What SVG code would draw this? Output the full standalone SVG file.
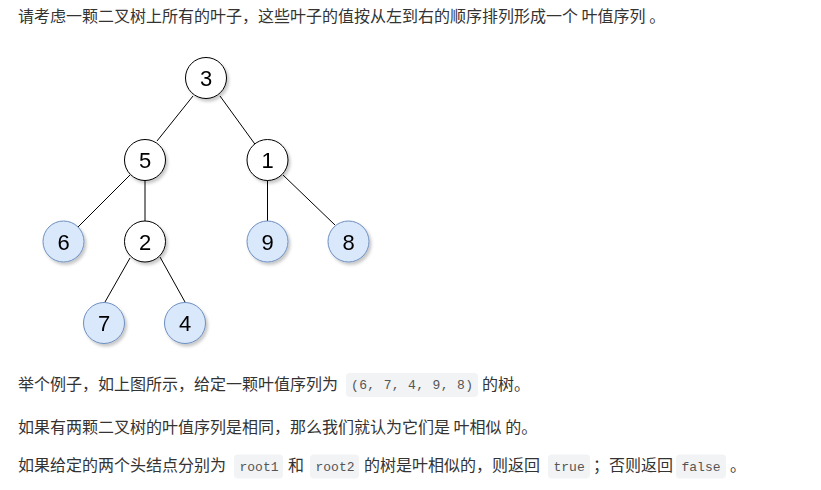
<svg xmlns="http://www.w3.org/2000/svg" width="821" height="490" viewBox="0 0 821 490">
<defs>
<filter id="sh" x="-30%" y="-30%" width="170%" height="170%">
<feDropShadow dx="2" dy="2.5" stdDeviation="1.5" flood-color="#000" flood-opacity="0.22"/>
</filter>
<style>
.t{font-family:"Noto Sans CJK SC","Noto Sans",sans-serif;font-size:16px;fill:#333;}
.c{font-family:"Liberation Mono",monospace;font-size:13px;fill:#555;}
.cb{fill:#f2f3f5;}
.n circle{fill:#fff;stroke:#000;stroke-width:1;}
.n.leaf circle{fill:#dae8fc;stroke:#6c8ebf;}
.n text{font-family:"Liberation Sans",Arial,sans-serif;font-size:22px;fill:#000;text-anchor:middle;}
.e line{stroke:#000;stroke-width:1;}
</style>
</defs>
<rect width="821" height="490" fill="#fff"/>

<text class="t" x="18" y="22">请考虑一颗二叉树上所有的叶子，这些叶子的值按从左到右的顺序排列形成一个 叶值序列 。</text>

<g id="edges" class="e">
<line x1="193" y1="96" x2="157" y2="141"/>
<line x1="220" y1="96" x2="257" y2="147"/>
<line x1="130" y1="175" x2="78" y2="227"/>
<line x1="145" y1="180" x2="145" y2="221"/>
<line x1="267.5" y1="180" x2="267.5" y2="221"/>
<line x1="283" y1="175" x2="335" y2="225"/>
<line x1="130" y1="258" x2="105" y2="302"/>
<line x1="160" y1="257" x2="185" y2="302"/>
</g>

<g id="n3" class="n" filter="url(#sh)"><circle cx="206" cy="78" r="20.5"/><text x="206" y="86">3</text></g>
<g id="n5" class="n" filter="url(#sh)"><circle cx="145" cy="160" r="20.5"/><text x="145" y="168">5</text></g>
<g id="n1" class="n" filter="url(#sh)"><circle cx="267.5" cy="160" r="20.5"/><text x="267.5" y="168">1</text></g>
<g id="n6" class="n leaf" filter="url(#sh)"><circle cx="63.5" cy="241.5" r="20.5"/><text x="63.5" y="249.5">6</text></g>
<g id="n2" class="n" filter="url(#sh)"><circle cx="145" cy="241.5" r="20.5"/><text x="145" y="249.5">2</text></g>
<g id="n9" class="n leaf" filter="url(#sh)"><circle cx="267.5" cy="241.5" r="20.5"/><text x="267.5" y="249.5">9</text></g>
<g id="n8" class="n leaf" filter="url(#sh)"><circle cx="348.5" cy="241.5" r="20.5"/><text x="348.5" y="249.5">8</text></g>
<g id="n7" class="n leaf" filter="url(#sh)"><circle cx="104" cy="323" r="20.5"/><text x="104" y="331">7</text></g>
<g id="n4" class="n leaf" filter="url(#sh)"><circle cx="185" cy="323" r="20.5"/><text x="185" y="331">4</text></g>

<text class="t" x="18" y="390">举个例子，如上图所示，给定一颗叶值序列为</text>
<rect class="cb" x="346" y="373" width="132" height="24" rx="4"/>
<text class="c" x="351" y="389" textLength="122" lengthAdjust="spacing">(6, 7, 4, 9, 8)</text>
<text class="t" x="482" y="390">的树。</text>

<text class="t" x="18" y="433">如果有两颗二叉树的叶值序列是相同，那么我们就认为它们是 叶相似 的。</text>

<text class="t" x="18" y="471">如果给定的两个头结点分别为</text>
<rect class="cb" x="234" y="454.5" width="49" height="24" rx="4"/>
<text class="c" x="239.5" y="470.5">root1</text>
<text class="t" x="288" y="471">和</text>
<rect class="cb" x="310" y="454.5" width="49" height="24" rx="4"/>
<text class="c" x="315.5" y="470.5">root2</text>
<text class="t" x="364" y="471">的树是叶相似的，则返回</text>
<rect class="cb" x="548" y="454.5" width="42" height="24" rx="4"/>
<text class="c" x="553.5" y="470.5">true</text>
<text class="t" x="593" y="471">；否则返回</text>
<rect class="cb" x="676" y="454.5" width="50" height="24" rx="4"/>
<text class="c" x="681.5" y="470.5">false</text>
<text class="t" x="730" y="471"> 。</text>
</svg>
